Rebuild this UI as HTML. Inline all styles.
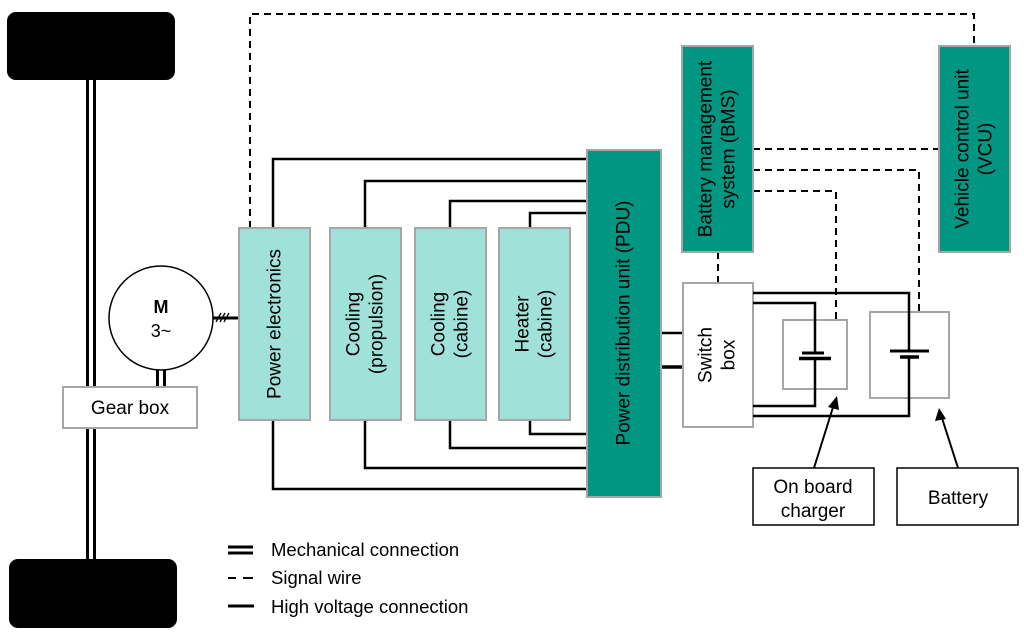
<!DOCTYPE html>
<html><head><meta charset="utf-8"><style>
html,body{margin:0;padding:0;background:#fff;}
svg{display:block;}
text{font-family:"Liberation Sans",Arial,sans-serif;fill:#000;}
</style></head><body>
<svg width="1024" height="638" viewBox="0 0 1024 638" xmlns="http://www.w3.org/2000/svg">
<!-- wheels -->
<rect x="7" y="12" width="168" height="68" rx="9" fill="#000"/>
<rect x="9" y="559" width="168" height="69" rx="9" fill="#000"/>
<!-- axle -->
<g stroke="#000" stroke-width="3">
<line x1="87.5" y1="80" x2="87.5" y2="559"/>
<line x1="94.5" y1="80" x2="94.5" y2="559"/>
<line x1="157.5" y1="368" x2="157.5" y2="388"/>
<line x1="164.5" y1="368" x2="164.5" y2="388"/>
</g>
<rect x="63" y="387" width="134" height="41" fill="#fff" stroke="#a6a6a6" stroke-width="2"/>
<text x="130" y="414" font-size="19" text-anchor="middle">Gear box</text>
<!-- motor -->
<circle cx="161" cy="318" r="52" fill="#fff" stroke="#000" stroke-width="1.5"/>
<text x="161" y="313" font-size="18" font-weight="bold" text-anchor="middle">M</text>
<text x="161" y="337" font-size="18" text-anchor="middle">3~</text>
<line x1="213" y1="318" x2="239" y2="318" stroke="#000" stroke-width="3"/>
<g stroke="#000" stroke-width="1.3">
<line x1="216" y1="322" x2="221" y2="313"/><line x1="220" y1="322" x2="225" y2="313"/><line x1="224" y1="322" x2="229" y2="313"/>
</g>
<!-- dashed top signal -->
<g fill="none" stroke="#000" stroke-width="2" stroke-dasharray="7,5">
<polyline points="250,228 250,14 974,14 974,46"/>
<line x1="753" y1="149" x2="939" y2="149"/>
<polyline points="753,170 919,170 919,312"/>
<polyline points="753,191 836,191 836,320"/>
<line x1="718" y1="252" x2="718" y2="283"/>
</g>
<!-- HV lines -->
<g fill="none" stroke="#000" stroke-width="2.5">
<polyline points="273,228 273,159 587,159"/>
<polyline points="365,228 365,181 587,181"/>
<polyline points="450,228 450,201 587,201"/>
<polyline points="530,228 530,213 587,213"/>
<polyline points="530,420 530,434 587,434"/>
<polyline points="450,420 450,448 587,448"/>
<polyline points="365,420 365,468 587,468"/>
<polyline points="273,420 273,489 587,489"/>
<line x1="661" y1="333" x2="683" y2="333"/>
<line x1="661" y1="367" x2="683" y2="367" stroke-width="3.5"/>
</g>
<!-- boxes -->
<g stroke="#a6a6a6" stroke-width="2">
<rect x="239" y="228" width="71" height="192" fill="#a0e2da"/>
<rect x="330" y="228" width="71" height="192" fill="#a0e2da"/>
<rect x="415" y="228" width="71" height="192" fill="#a0e2da"/>
<rect x="499" y="228" width="71" height="192" fill="#a0e2da"/>
<rect x="587" y="150" width="74" height="347" fill="#009682"/>
<rect x="682" y="46" width="71" height="206" fill="#009682"/>
<rect x="939" y="46" width="71" height="206" fill="#009682"/>
<rect x="683" y="283" width="70" height="144" fill="#fff"/>
<rect x="783" y="320" width="64" height="69" fill="none"/>
<rect x="870" y="312" width="79" height="86" fill="none"/>
</g>
<!-- texts rotated -->
<g font-size="19" text-anchor="middle" dominant-baseline="central">
<text transform="translate(275,324) rotate(-90)">Power electronics</text>
<text transform="translate(354,324) rotate(-90)">Cooling</text>
<text transform="translate(377,324) rotate(-90)">(propulsion)</text>
<text transform="translate(439,324) rotate(-90)">Cooling</text>
<text transform="translate(462,324) rotate(-90)">(cabine)</text>
<text transform="translate(523,324) rotate(-90)">Heater</text>
<text transform="translate(546,324) rotate(-90)">(cabine)</text>
<text transform="translate(624,323) rotate(-90)">Power distribution unit (PDU)</text>
<text transform="translate(706,149) rotate(-90)">Battery management</text>
<text transform="translate(729,149) rotate(-90)">system (BMS)</text>
<text transform="translate(963,149) rotate(-90)">Vehicle control unit</text>
<text transform="translate(986,149) rotate(-90)">(VCU)</text>
<text transform="translate(706,355) rotate(-90)">Switch</text>
<text transform="translate(729,355) rotate(-90)">box</text>
</g>
<!-- switchbox circuits -->
<g fill="none" stroke="#000" stroke-width="2.5">
<polyline points="753,293 909,293 909,351"/>
<polyline points="909,357 909,416 753,416"/>
<polyline points="753,303 815,303 815,353"/>
<polyline points="815,358 815,406 753,406"/>
</g>
<g stroke="#000">
<line x1="802" y1="353" x2="824" y2="353" stroke-width="3"/>
<line x1="799" y1="358.5" x2="831" y2="358.5" stroke-width="3.5"/>
<line x1="890" y1="351" x2="929" y2="351" stroke-width="3"/>
<line x1="900" y1="357" x2="919" y2="357" stroke-width="3.5"/>
</g>
<!-- arrows -->
<g stroke="#000" stroke-width="2">
<line x1="814" y1="468" x2="834" y2="404"/>
<line x1="958" y1="468" x2="941" y2="415"/>
</g>
<polygon points="837,396 839,410 828,407" fill="#000"/>
<polygon points="939,408 946,419 935,421" fill="#000"/>
<rect x="753" y="468" width="121" height="57" fill="#fff" stroke="#000" stroke-width="1.5"/>
<rect x="897" y="468" width="121" height="57" fill="#fff" stroke="#000" stroke-width="1.5"/>
<text x="813" y="493" font-size="19" text-anchor="middle">On board</text>
<text x="813" y="517" font-size="19" text-anchor="middle">charger</text>
<text x="958" y="504" font-size="19" text-anchor="middle">Battery</text>
<!-- legend -->
<g stroke="#000">
<line x1="228" y1="547" x2="253" y2="547" stroke-width="3"/>
<line x1="228" y1="553" x2="253" y2="553" stroke-width="3"/>
<line x1="228" y1="578" x2="236" y2="578" stroke-width="2"/>
<line x1="243" y1="578" x2="253" y2="578" stroke-width="2"/>
<line x1="228" y1="606" x2="254" y2="606" stroke-width="3"/>
</g>
<text x="271" y="556" font-size="18.5">Mechanical connection</text>
<text x="271" y="584" font-size="18.5">Signal wire</text>
<text x="271" y="613" font-size="18.5">High voltage connection</text>
</svg>
</body></html>
